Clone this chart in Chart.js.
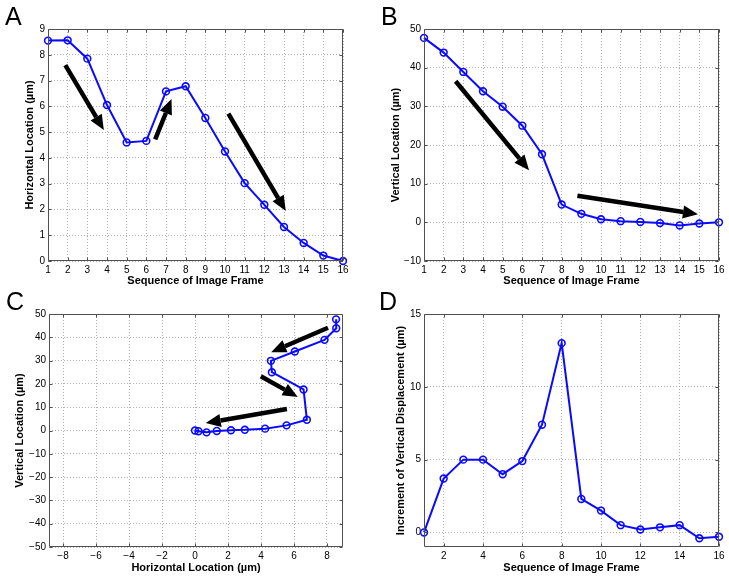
<!DOCTYPE html>
<html lang="en">
<head>
<meta charset="UTF-8">
<title>Cell Tracking Panels</title>
<script src="https://cdn.jsdelivr.net/npm/chart.js"></script>
<style>
  body { margin: 0; background: #fff; }
  #wrap { position: relative; width: 729px; height: 578px; overflow: hidden; }
  #wrap canvas { position: absolute; }
  .tag { position: absolute; font: 25px/25px 'Liberation Sans', Arial, sans-serif; color: #000; }
</style>
</head>
<body>
<div id="wrap">
  <canvas id="panelA" width="364" height="289" style="left:0;top:0"></canvas>
  <canvas id="panelB" width="365" height="289" style="left:364px;top:0"></canvas>
  <canvas id="panelC" width="364" height="289" style="left:0;top:289px"></canvas>
  <canvas id="panelD" width="365" height="289" style="left:364px;top:289px"></canvas>
  <div class="tag" style="left:5px;top:4px">A</div>
  <div class="tag" style="left:381px;top:4px">B</div>
  <div class="tag" style="left:6px;top:289px">C</div>
  <div class="tag" style="left:379px;top:289px">D</div>
</div>
<script>
// values
const frames = [1, 2, 3, 4, 5, 6, 7, 8, 9, 10, 11, 12, 13, 14, 15, 16];
const horizontal = [8.55, 8.56, 7.85, 6.05, 4.6, 4.66, 6.58, 6.78, 5.55, 4.25, 3.02, 2.18, 1.32, 0.7, 0.21, 0];
const vertical = [47.7, 43.9, 38.9, 33.9, 29.9, 25.0, 17.6, 4.6, 2.2, 0.8, 0.3, 0.1, -0.2, -0.8, -0.3, 0];
const increment = [0, 3.7, 5.0, 5.0, 4.0, 4.9, 7.4, 13.0, 2.3, 1.5, 0.5, 0.2, 0.35, 0.5, -0.4, -0.3];

// tick labels
const frameTicks = [1, 2, 3, 4, 5, 6, 7, 8, 9, 10, 11, 12, 13, 14, 15, 16];
const evenFrameTicks = [2, 4, 6, 8, 10, 12, 14, 16];
const horizTicks = [0, 1, 2, 3, 4, 5, 6, 7, 8, 9];
const vertTicks = [-10, 0, 10, 20, 30, 40, 50];
const pathXTicks = [-8, -6, -4, -2, 0, 2, 4, 6, 8];
const pathYTicks = [-50, -40, -30, -20, -10, 0, 10, 20, 30, 40, 50];
const incTicks = [0, 5, 10, 15];

// annotation arrows, [fromX, fromY, toX, toY] in data units
const arrowsA = [[1.88, 7.6, 3.84, 5.08], [6.45, 4.72, 7.28, 6.28], [10.17, 5.72, 13.09, 1.94]];
const arrowsB = [[2.61, 36.5, 6.34, 13.5], [8.8, 6.9, 14.93, 2.07]];
const arrowsC = [[8.06, 44.1, 4.62, 33.6], [3.99, 23.3, 6.23, 14.4], [5.57, 9.2, 0.65, 3.2]];

const BLUE = '#0a0aff';
Chart.defaults.font.family = "'Liberation Sans', Arial, sans-serif";
Chart.defaults.color = '#000';

function minus(v) {
  return v < 0 ? '\u2212' + Math.abs(v) : String(v);
}

// box around the plot, little inward ticks, and the black arrows
function frameBox(arrows) {
  return {
    id: 'frameBox',
    afterDatasetsDraw(chart) {
      const { ctx, chartArea: a, scales } = chart;
      const L = Math.round(a.left) + 0.5, R = Math.round(a.right) - 0.5;
      const T = Math.round(a.top) + 0.5, B = Math.round(a.bottom) - 0.5;
      ctx.save();
      ctx.strokeStyle = '#505050';
      ctx.lineWidth = 1;
      ctx.beginPath();
      ctx.rect(L, T, R - L, B - T);
      scales.x.ticks.forEach(t => {
        const px = Math.round(scales.x.getPixelForValue(t.value)) + 0.5;
        ctx.moveTo(px, B); ctx.lineTo(px, B - 3);
        ctx.moveTo(px, T); ctx.lineTo(px, T + 3);
      });
      scales.y.ticks.forEach(t => {
        const py = Math.round(scales.y.getPixelForValue(t.value)) + 0.5;
        ctx.moveTo(L, py); ctx.lineTo(L + 3, py);
        ctx.moveTo(R, py); ctx.lineTo(R - 3, py);
      });
      ctx.stroke();

      ctx.fillStyle = '#000';
      ctx.strokeStyle = '#000';
      (arrows || []).forEach(([x1, y1, x2, y2]) => {
        const sx = scales.x.getPixelForValue(x1), sy = scales.y.getPixelForValue(y1);
        const ex = scales.x.getPixelForValue(x2), ey = scales.y.getPixelForValue(y2);
        const ang = Math.atan2(ey - sy, ex - sx);
        const headLen = 15, headHalf = 6.5;
        const bx = ex - headLen * Math.cos(ang), by = ey - headLen * Math.sin(ang);
        ctx.lineWidth = 4.5;
        ctx.beginPath();
        ctx.moveTo(sx, sy);
        ctx.lineTo(bx, by);
        ctx.stroke();
        ctx.beginPath();
        ctx.moveTo(ex, ey);
        ctx.lineTo(bx + headHalf * Math.sin(ang), by - headHalf * Math.cos(ang));
        ctx.lineTo(bx - headHalf * Math.sin(ang), by + headHalf * Math.cos(ang));
        ctx.closePath();
        ctx.fill();
      });
      ctx.restore();
    }
  };
}

function axis(title, min, max, tickVals, titlePad, fit) {
  return {
    type: 'linear',
    min: min,
    max: max,
    afterBuildTicks: s => { s.ticks = tickVals.map(v => ({ value: v })); },
    afterFit: fit,
    ticks: { padding: 3, autoSkip: false, maxRotation: 0, font: { size: 10 }, color: '#000', callback: minus },
    grid: { color: '#b0b0b0', lineWidth: 1, drawTicks: false },
    border: { display: false, dash: [1, 2] },
    title: { display: true, text: title, color: '#000', font: { size: 11, weight: 'bold' }, padding: titlePad }
  };
}

function makePanel(id, p) {
  const cv = document.getElementById(id);
  const W = cv.width, H = cv.height;
  new Chart(cv, {
    type: 'line',
    data: {
      datasets: [{
        data: p.points,
        borderColor: BLUE,
        borderWidth: 2,
        pointRadius: 3.4,
        pointBorderWidth: 1.6,
        pointBorderColor: BLUE,
        pointBackgroundColor: 'rgba(0,0,0,0)',
        tension: 0,
        clip: false
      }]
    },
    options: {
      responsive: false,
      animation: false,
      layout: { padding: { top: p.area.top, right: W - p.area.right, left: 0, bottom: 0 } },
      plugins: { legend: { display: false }, tooltip: { enabled: false } },
      scales: {
        x: axis(p.xTitle, p.xMin, p.xMax, p.xTicks, { top: 0, bottom: p.xTitlePad },
          s => { s.height = H - p.area.bottom; }),
        y: axis(p.yTitle, p.yMin, p.yMax, p.yTicks, { top: p.yTitlePad, bottom: 0 },
          s => { s.width = p.area.left; })
      }
    },
    plugins: [frameBox(p.arrows)]
  });
}

const pairs = (xs, ys) => xs.map((x, i) => ({ x: x, y: ys[i] }));

makePanel('panelA', {
  points: pairs(frames, horizontal),
  xTitle: 'Sequence of Image Frame', yTitle: 'Horizontal Location (\u00b5m)',
  xMin: 1, xMax: 16, xTicks: frameTicks,
  yMin: 0, yMax: 9, yTicks: horizTicks,
  area: { left: 48, top: 29, right: 343, bottom: 261 },
  xTitlePad: 1, yTitlePad: 23,
  arrows: arrowsA
});

makePanel('panelB', {
  points: pairs(frames, vertical),
  xTitle: 'Sequence of Image Frame', yTitle: 'Vertical Location (\u00b5m)',
  xMin: 1, xMax: 16, xTicks: frameTicks,
  yMin: -10, yMax: 50, yTicks: vertTicks,
  area: { left: 60, top: 29, right: 355, bottom: 261 },
  xTitlePad: 1, yTitlePad: 25,
  arrows: arrowsB
});

makePanel('panelC', {
  points: pairs(horizontal, vertical),
  xTitle: 'Horizontal Location (\u00b5m)', yTitle: 'Vertical Location (\u00b5m)',
  xMin: -8.85, xMax: 8.97, xTicks: pathXTicks,
  yMin: -50, yMax: 50, yTicks: pathYTicks,
  area: { left: 49, top: 25, right: 343, bottom: 258 },
  xTitlePad: 3.5, yTitlePad: 13,
  arrows: arrowsC
});

makePanel('panelD', {
  points: pairs(frames, increment),
  xTitle: 'Sequence of Image Frame', yTitle: 'Increment of Vertical Displacement (\u00b5m)',
  xMin: 1, xMax: 16, xTicks: evenFrameTicks,
  yMin: -1, yMax: 15, yTicks: incTicks,
  area: { left: 60, top: 25, right: 355, bottom: 258 },
  xTitlePad: 3.5, yTitlePad: 30,
  arrows: []
});
</script>
</body>
</html>
